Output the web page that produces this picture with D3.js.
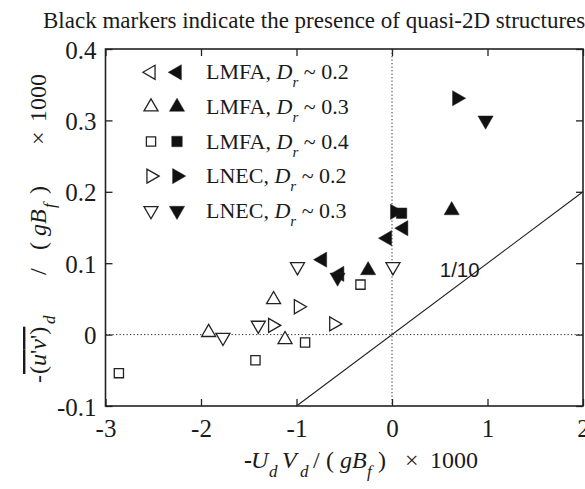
<!DOCTYPE html>
<html>
<head>
<meta charset="utf-8">
<script src="https://cdn.jsdelivr.net/npm/d3@7"></script>
<style>
  body { margin: 0; background: #fff; }
  text { font-family: "Liberation Serif", "Times New Roman", serif; fill: #1a1a1a; white-space: pre; }
</style>
</head>
<body>
<script>
// axis ticks
var xTicks = [-3, -2, -1, 0, 1, 2];
var yTicks = [-0.1, 0, 0.1, 0.2, 0.3, 0.4];

// series: LMFA / LNEC, open = no quasi-2D structures, filled = quasi-2D structures
var labNames = ["LMFA", "LMFA", "LMFA", "LNEC", "LNEC"];
var drValues = ["0.2", "0.3", "0.4", "0.2", "0.3"];
var markerKind = ["left", "up", "square", "right", "down"];

var lmfa02Open = [];
var lmfa02Filled = [[-0.73, 0.105], [-0.55, 0.085], [-0.05, 0.135], [0.12, 0.149]];
var lmfa03Open = [[-1.24, 0.049], [-1.92, 0.003], [-1.12, -0.007]];
var lmfa03Filled = [[-0.25, 0.09], [0.625, 0.174]];
var lmfa04Open = [[-2.86, -0.054], [-1.43, -0.036], [-0.91, -0.011], [-0.33, 0.07]];
var lmfa04Filled = [[0.10, 0.170]];
var lnec02Open = [[-0.98, 0.039], [-1.25, 0.013], [-0.61, 0.015]];
var lnec02Filled = [[0.68, 0.331], [0.03, 0.172]];
var lnec03Open = [[-0.99, 0.095], [-1.40, 0.013], [-1.77, -0.004], [0.01, 0.095]];
var lnec03Filled = [[0.98, 0.300], [-0.57, 0.080]];

var openSets = [lmfa02Open, lmfa03Open, lmfa04Open, lnec02Open, lnec03Open];
var filledSets = [lmfa02Filled, lmfa03Filled, lmfa04Filled, lnec02Filled, lnec03Filled];

// 1/10 reference line
var refSlope = 0.1;
var refX = [-1, 2];

var w = 585, h = 489;
var pLeft = 105.5, pRight = 583, pTop = 49, pBottom = 406;

var svg = d3.select("body").append("svg")
  .attr("width", w)
  .attr("height", h);

var x = d3.scaleLinear().domain([-3, 2]).range([pLeft, pRight]);
var y = d3.scaleLinear().domain([-0.1, 0.4]).range([pBottom, pTop]);

function hyphen(s) { return s.replace("\u2212", "-"); }

// title
svg.append("text")
  .attr("x", 43)
  .attr("y", 28)
  .attr("font-size", 23)
  .text("Black markers indicate the presence of quasi-2D structures");

// dotted zero lines
svg.append("line")
  .attr("x1", x(0)).attr("x2", x(0))
  .attr("y1", pTop).attr("y2", pBottom)
  .attr("stroke", "#333").attr("stroke-width", 1)
  .attr("stroke-dasharray", "1.3,2.2");
svg.append("line")
  .attr("x1", pLeft).attr("x2", pRight)
  .attr("y1", y(0)).attr("y2", y(0))
  .attr("stroke", "#333").attr("stroke-width", 1)
  .attr("stroke-dasharray", "1.3,2.2");

// 1/10 line
svg.append("line")
  .attr("x1", x(refX[0])).attr("y1", y(refX[0] * refSlope))
  .attr("x2", x(refX[1])).attr("y2", y(refX[1] * refSlope))
  .attr("stroke", "#222").attr("stroke-width", 1.1);
svg.append("text")
  .attr("x", x(0.5))
  .attr("y", y(0.08))
  .attr("font-size", 20.5)
  .style("font-family", "'Liberation Sans', Arial, sans-serif")
  .text("1/10");

// axes (ticks pointing inward)
var tick = 7;
var gx = svg.append("g").attr("transform", "translate(0," + pBottom + ")")
  .call(d3.axisBottom(x).tickValues(xTicks).tickSizeInner(-tick).tickSizeOuter(0).tickPadding(12)
    .tickFormat(function(d) { return hyphen(d3.format("d")(d)); }));
var gxTop = svg.append("g").attr("transform", "translate(0," + pTop + ")")
  .call(d3.axisTop(x).tickValues(xTicks).tickSizeInner(-tick).tickSizeOuter(0).tickFormat(""));
var gy = svg.append("g").attr("transform", "translate(" + pLeft + ",0)")
  .call(d3.axisLeft(y).tickValues(yTicks).tickSizeInner(-tick).tickSizeOuter(0).tickPadding(9)
    .tickFormat(function(d) { return d === 0 ? "0" : hyphen(d3.format(".1f")(d)); }));
var gyRight = svg.append("g").attr("transform", "translate(" + pRight + ",0)")
  .call(d3.axisRight(y).tickValues(yTicks).tickSizeInner(-tick).tickSizeOuter(0).tickFormat(""));

[gx, gxTop, gy, gyRight].forEach(function(g) {
  g.select(".domain").remove();
  g.selectAll(".tick line").attr("stroke", "#222").attr("stroke-width", 1.3);
  g.selectAll(".tick text")
    .attr("font-family", null)
    .attr("font-size", 25)
    .attr("fill", "#1a1a1a");
});
gy.selectAll(".tick text").attr("dy", "0.36em");
gx.selectAll(".tick text").attr("dy", "0.75em");

svg.append("rect")
  .attr("x", pLeft).attr("y", pTop)
  .attr("width", pRight - pLeft).attr("height", pBottom - pTop)
  .attr("fill", "none").attr("stroke", "#222").attr("stroke-width", 1.6);

// markers
var rot = { up: 0, right: 90, down: 180, left: -90 };
function markerPath(kind, filled) {
  if (kind === "square") return d3.symbol().type(d3.symbolSquare).size(filled ? 110 : 85)();
  return d3.symbol().type(d3.symbolTriangle).size(filled ? 100 : 85)();
}
function drawMarker(g, kind, filled, px, py) {
  g.append("path")
    .attr("d", markerPath(kind, filled))
    .attr("transform", "translate(" + px + "," + py + ")" + (kind === "square" ? "" : " rotate(" + rot[kind] + ")"))
    .attr("fill", filled ? "#111" : "#fff")
    .attr("stroke", "#222")
    .attr("stroke-width", filled ? 0.5 : 1.3);
}

var pts = svg.append("g");
openSets.forEach(function(set, i) {
  set.forEach(function(p) { drawMarker(pts, markerKind[i], false, x(p[0]), y(p[1])); });
});
filledSets.forEach(function(set, i) {
  set.forEach(function(p) { drawMarker(pts, markerKind[i], true, x(p[0]), y(p[1])); });
});

// legend
var legend = svg.append("g");
labNames.forEach(function(name, i) {
  var ly = 72.3 + i * 34.6;
  drawMarker(legend, markerKind[i], false, 151, ly);
  drawMarker(legend, markerKind[i], true, 177, ly);
  var t = legend.append("text").attr("x", 206).attr("y", ly + 7).attr("font-size", 22);
  t.append("tspan").text(name + ", ");
  t.append("tspan").attr("font-style", "italic").text("D");
  t.append("tspan").attr("font-style", "italic").attr("font-size", 15).attr("dy", 8).text("r");
  t.append("tspan").attr("dy", -8).text(" ~ " + drValues[i]);
});

// x title, pieces placed along the baseline
var xt = svg.append("text").attr("y", 468).attr("font-size", 24);
function xPiece(px, str, opt) {
  opt = opt || {};
  xt.append("tspan").attr("x", px).attr("y", 468 + (opt.sub ? 9 : 0))
    .attr("font-style", opt.it ? "italic" : null)
    .attr("font-weight", opt.bold ? "bold" : null)
    .attr("font-size", opt.sub ? 17 : null)
    .text(str);
}
xPiece(244, "-", { bold: true });
xPiece(251, "U", { it: true });
xPiece(269, "d", { it: true, sub: true });
xPiece(282, "V", { it: true });
xPiece(300, "d", { it: true, sub: true });
xPiece(313, "/");
xPiece(326, "(");
xPiece(340, "gB", { it: true });
xPiece(367, "f", { it: true, sub: true });
xPiece(378, ")");
xPiece(405, "\u00d7");
xPiece(430, "1000");

// y title, rotated; pieces placed by screen y of their start
var yBase = 46;
var yt = svg.append("text")
  .attr("transform", "translate(" + yBase + ",0) rotate(-90)")
  .attr("font-size", 24);
function yPiece(sy, str, opt) {
  opt = opt || {};
  var t = yt.append("tspan").attr("x", -sy).attr("y", opt.sub ? 9 : 0)
    .attr("font-style", opt.it ? "italic" : null)
    .attr("font-size", opt.sub ? 17 : null);
  if (opt.html) t.html(str); else t.text(str);
  if (opt.over) t.style("text-decoration", "overline");
  return t;
}
yPiece(383, "-");
yPiece(374, "(<tspan font-style='italic'>u</tspan>'<tspan font-style='italic'>v</tspan>')", { html: true, over: true });
yPiece(324, "d", { it: true, sub: true });
yPiece(275, "/");
yPiece(250, "(");
yPiece(236, "gB", { it: true });
yPiece(208, "f", { it: true, sub: true });
yPiece(194, ")");
yPiece(145, "\u00d7");
yPiece(122, "1000");
</script>
</body>
</html>
